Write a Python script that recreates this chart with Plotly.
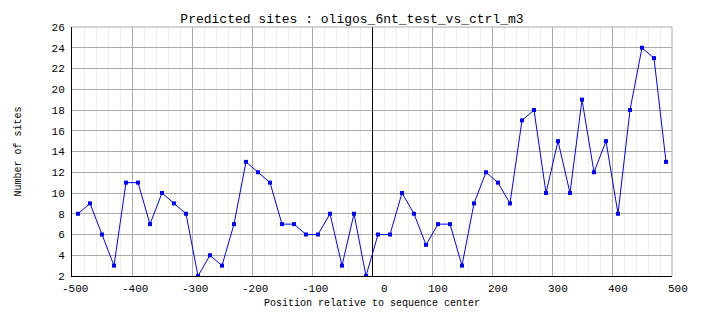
import plotly.graph_objects as go

# Bin centres (positions relative to sequence centre) and site counts per bin
positions = list(range(-490, 491, 20))
site_counts = [
    8, 9, 6, 3, 11, 11, 7, 10, 9, 8,
    2, 4, 3, 7, 13, 12, 11, 7, 7, 6,
    6, 8, 3, 8, 2, 6, 6, 10, 8, 5,
    7, 7, 3, 9, 12, 11, 9, 17, 18, 10,
    15, 10, 19, 12, 15, 8, 18, 24, 23, 13,
]
x_ticks = list(range(-500, 501, 100))
y_ticks = list(range(2, 27, 2))

MONO = "Liberation Mono, DejaVu Sans Mono, monospace"
MAJOR = "#aaaaaa"
MINOR = "#eeeeee"

fig = go.Figure()
fig.add_trace(go.Scatter(
    x=positions, y=site_counts, mode="lines+markers",
    line=dict(color="#0000ff", width=1),
    marker=dict(symbol="square", size=4, color="#0000ff", line=dict(width=0)),
    showlegend=False, hoverinfo="x+y",
))

fig.update_xaxes(
    range=[-500, 500], tickvals=x_ticks, showticklabels=False, ticks="",
    showgrid=True, gridcolor=MAJOR, gridwidth=1,
    minor=dict(dtick=20, showgrid=True, gridcolor=MINOR, gridwidth=1, ticks=""),
    zeroline=True, zerolinecolor="#000000", zerolinewidth=1,
    showline=True, linecolor="#000000", linewidth=1,
)
fig.update_yaxes(
    range=[2, 26], tickvals=y_ticks, ticks="", ticklabelstandoff=4,
    tickfont=dict(family=MONO, size=11, color="#000000"),
    showgrid=True, gridcolor=MAJOR, gridwidth=1,
    zeroline=False,
    showline=True, linecolor="#000000", linewidth=1,
)

annotations = []
# x tick labels, right-aligned just past each gridline
for v in x_ticks:
    annotations.append(dict(
        x=v, xref="x", y=0, yref="paper", text=str(v),
        xanchor="right", yanchor="top", xshift=18, yshift=-5, showarrow=False,
        font=dict(family=MONO, size=11, color="#000000"),
    ))
# axis titles
annotations.append(dict(
    x=0.5, xref="paper", y=0, yref="paper", text="Position relative to sequence center",
    xanchor="center", yanchor="middle", yshift=-27, showarrow=False,
    font=dict(family=MONO, size=10, color="#000000"),
))
annotations.append(dict(
    x=-0.09, xref="paper", y=0.5, yref="paper", text="Number of sites",
    textangle=-90, xanchor="center", yanchor="middle", showarrow=False,
    font=dict(family=MONO, size=10, color="#000000"),
))

# grey frame on the top and right edges
shapes = [
    dict(type="line", xref="paper", yref="paper", x0=0, x1=1, y0=1, y1=1,
         line=dict(color=MAJOR, width=1), layer="above"),
    dict(type="line", xref="paper", yref="paper", x0=1, x1=1, y0=0, y1=1,
         line=dict(color=MAJOR, width=1), layer="above"),
]

fig.update_layout(
    width=704, height=328,
    margin=dict(l=72, r=32, t=27, b=52),
    paper_bgcolor="#ffffff", plot_bgcolor="#ffffff",
    title=dict(text="Predicted sites : oligos_6nt_test_vs_ctrl_m3",
               x=0.5, xref="container", xanchor="center",
               y=1 - 18 / 328, yref="container", yanchor="middle",
               font=dict(family=MONO, size=13, color="#000000")),
    annotations=annotations, shapes=shapes,
)

fig.write_html("out.html")
